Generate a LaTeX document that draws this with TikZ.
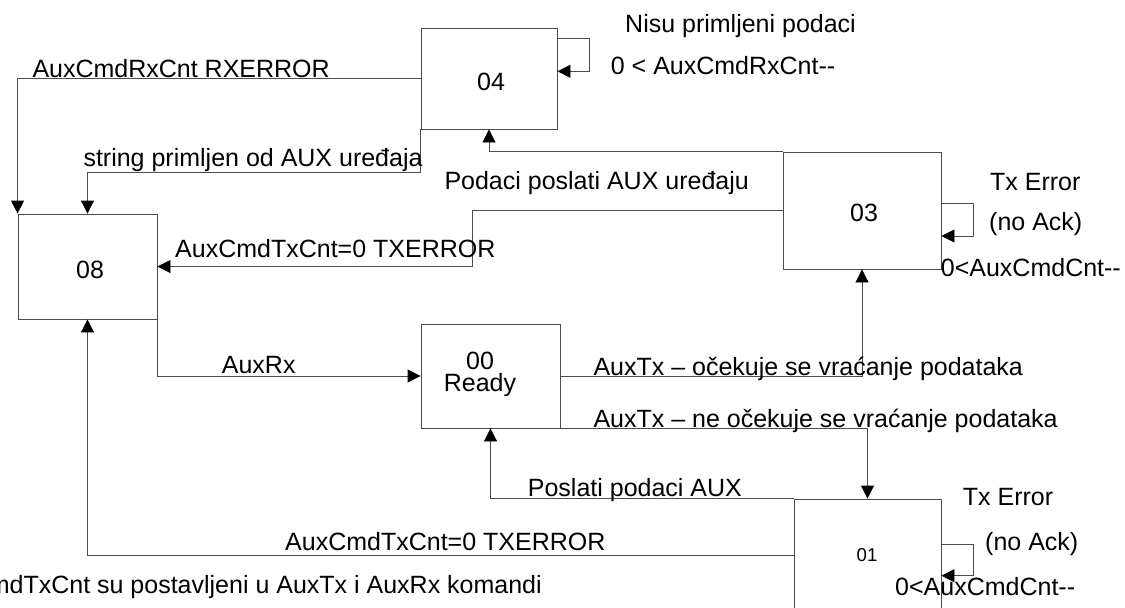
\documentclass[tikz,border=0pt]{standalone}
\usepackage{fontspec}
\setmainfont{Liberation Sans}
\usetikzlibrary{arrows.meta}
\begin{document}
\begin{tikzpicture}[x=1pt,y=-1pt,
  every node/.style={font=\fontsize{25}{30}\selectfont},
  statebox/.style={draw=black!70,line width=0.9pt,rectangle,inner sep=0pt,fill=white},
  lbl/.style={anchor=base west,inner sep=0pt},
  arr/.style={draw=black!70,line width=0.9pt,-{Triangle[length=13pt,width=13pt,color=black]}}]
\path[fill=white,use as bounding box] (0,0) rectangle (1125,608);
% states
\node[statebox,minimum width=136pt,minimum height=101pt] (b04) at (489,78.5) {};
\node[statebox,minimum width=139pt,minimum height=105pt] (b08) at (87.5,266.5) {};
\node[statebox,minimum width=158pt,minimum height=117pt] (b03) at (862,210.5) {};
\node[statebox,minimum width=139pt,minimum height=104pt] (b00) at (490.5,376) {};
\node[statebox,minimum width=147pt,minimum height=112pt] (b01) at (867.5,555) {};
% state texts
\node[lbl] (t04) at (477,90.7) {04};
\node[lbl] (t08) at (76,278.3) {08};
\node[lbl] (t03) at (850,221.7) {03};
\node[anchor=base,inner sep=0pt] (t00) at (480,369.3) {00};
\node[anchor=base,inner sep=0pt] (tready) at (480,391) {Ready};
\node[anchor=base,inner sep=0pt,font=\fontsize{18.6}{22}\selectfont] (t01) at (867,561.7) {01};
% connectors
\coordinate (c1) at (472.7,266.5);
\draw[arr] (b04.west) -| (b08.north west);
\draw[arr] (b04.south west) -- ++(0,43.3) -| (b08.north);
\draw[arr] (b03.north west) -| (b04.south);
\draw[arr] (b03.west) -| (c1) -- (b08.east);
\draw[arr] ([yshift=39.8pt]b04.east) -- ++(31.7,0) |- ([yshift=7.2pt]b04.east);
\draw[arr] ([yshift=6.8pt]b03.east) -- ++(31.7,0) |- ([yshift=-25.5pt]b03.east);
\draw[arr] (b08.south east) |- (b00.west);
\draw[arr] (b00.east) -| (b03.south);
\draw[arr] (b00.south east) -| (b01.north);
\draw[arr] (b01.north west) -| (b00.south);
\draw[arr] (b01.west) -| (b08.south);
\draw[arr] ([yshift=10.7pt]b01.east) -- ++(32.3,0) |- ([yshift=-20.7pt]b01.east);
% labels
\node[lbl] (l1) at (32.3,77.3) {AuxCmdRxCnt RXERROR};
\node[lbl] (l2) at (83.3,166.7) {string primljen od AUX uređaja};
\node[lbl] (l3) at (625,32.3) {Nisu primljeni podaci};
\node[lbl] (l4) at (610.7,74) {0 < AuxCmdRxCnt-{}-};
\node[lbl] (l5) at (444.3,189) {Podaci poslati AUX uređaju};
\node[lbl] (l6) at (990,190) {Tx Error};
\node[lbl] (l7) at (989,230) {(no Ack)};
\node[lbl] (l8) at (940.7,276.7) {0<AuxCmdCnt-{}-};
\node[lbl] (l9) at (175,257.3) {AuxCmdTxCnt=0 TXERROR};
\node[lbl] (l10) at (221.7,373.3) {AuxRx};
\node[lbl] (l11) at (593.3,375.7) {AuxTx – očekuje se vraćanje podataka};
\node[lbl] (l12) at (593.3,427.7) {AuxTx – ne očekuje se vraćanje podataka};
\node[lbl] (l13) at (527.7,496) {Poslati podaci AUX};
\node[lbl] (l14) at (285,550) {AuxCmdTxCnt=0 TXERROR};
\node[lbl] (l15) at (962.7,505) {Tx Error};
\node[lbl] (l16) at (985,550) {(no Ack)};
\node[lbl] (l17) at (895,595) {0<AuxCmdCnt-{}-};
\node[anchor=base east,inner sep=0pt] (l18) at (542,593.3) {AuxCmdTxCnt su postavljeni u AuxTx i AuxRx komandi};
\end{tikzpicture}
\end{document}
